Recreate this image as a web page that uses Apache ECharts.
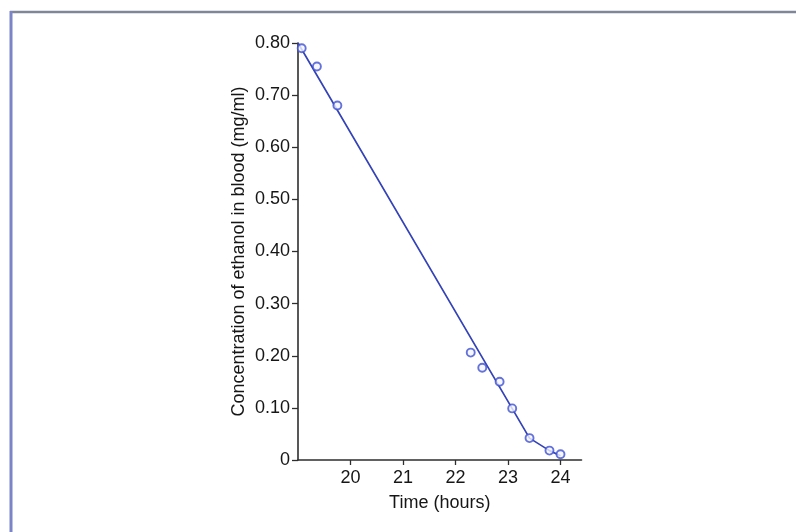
<!DOCTYPE html>
<html>
<head>
<meta charset="utf-8">
<script src="https://cdn.jsdelivr.net/npm/echarts@6/dist/echarts.min.js"></script>
<style>
html,body{margin:0;padding:0;background:#fff;}
#chart{width:796px;height:532px;}
</style>
</head>
<body>
<div id="chart"></div>
<script>
// Observed data points (time in hours, ethanol concentration mg/ml)
const obsTime = [19.07, 19.36, 19.75, 22.29, 22.51, 22.84, 23.08, 23.41, 23.79, 24.0];
const obsConc = [0.79, 0.755, 0.68, 0.206, 0.177, 0.150, 0.099, 0.042, 0.018, 0.011];
// Fitted line
const fitTime = [19.0, 23.41, 23.79, 24.0];
const fitConc = [0.80, 0.042, 0.018, 0.008];
// Ticks
const xTicks = [20, 21, 22, 23, 24];
const xTickLabels = ['20', '21', '22', '23', '24'];
const yTicks = [0, 0.1, 0.2, 0.3, 0.4, 0.5, 0.6, 0.7, 0.8];
const yTickLabels = ['0', '0.10', '0.20', '0.30', '0.40', '0.50', '0.60', '0.70', '0.80'];

const xTitle = 'Time (hours)';
const yTitle = 'Concentration of ethanol in blood (mg/ml)';

const chart = echarts.init(document.getElementById('chart'));
const font = 'Liberation Sans, Arial, sans-serif';
const axisColor = '#2e2e2e';
const textColor = '#161616';

function labelFor(ticks, labels, v) {
  for (let i = 0; i < ticks.length; i++) {
    if (Math.abs(ticks[i] - v) < 1e-6) return labels[i];
  }
  return '';
}

chart.setOption({
  backgroundColor: '#fff',
  animation: false,
  graphic: [
    { type: 'line', shape: { x1: 10, y1: 12, x2: 796, y2: 12 }, style: { stroke: '#80869a', lineWidth: 2.5 } },
    { type: 'line', shape: { x1: 11, y1: 11, x2: 11, y2: 532 }, style: { stroke: '#7c84c8', lineWidth: 3 } }
  ],
  grid: { left: 298, top: 43, width: 283.5, height: 417, containLabel: false },
  xAxis: {
    type: 'value',
    min: 19, max: 24.4,
    name: xTitle,
    nameLocation: 'middle',
    nameGap: 34,
    nameTextStyle: { fontFamily: font, fontSize: 18, color: textColor },
    axisLine: { show: true, onZero: false, lineStyle: { color: axisColor, width: 1.6 } },
    axisTick: { show: true, length: 5, customValues: xTicks, lineStyle: { color: axisColor, width: 1.3 } },
    axisLabel: {
      customValues: xTicks,
      margin: 9,
      fontFamily: font, fontSize: 18, color: textColor,
      formatter: v => labelFor(xTicks, xTickLabels, v)
    },
    splitLine: { show: false }
  },
  yAxis: {
    type: 'value',
    min: 0, max: 0.8,
    name: yTitle,
    nameLocation: 'middle',
    nameGap: 50,
    nameTextStyle: { fontFamily: font, fontSize: 18, color: textColor },
    axisLine: { show: true, onZero: false, lineStyle: { color: axisColor, width: 1.6 } },
    axisTick: { show: true, length: 6, customValues: yTicks, lineStyle: { color: axisColor, width: 1.3 } },
    axisLabel: {
      customValues: yTicks,
      margin: 8,
      fontFamily: font, fontSize: 18, color: textColor,
      formatter: v => labelFor(yTicks, yTickLabels, v)
    },
    splitLine: { show: false }
  },
  series: [
    {
      type: 'line',
      data: fitTime.map((t, i) => [t, fitConc[i]]),
      showSymbol: false,
      symbol: 'none',
      lineStyle: { color: '#3443b8', width: 1.7 },
      z: 2
    },
    {
      type: 'scatter',
      data: obsTime.map((t, i) => [t, obsConc[i]]),
      symbol: 'circle',
      symbolSize: 8,
      itemStyle: { color: '#f4f5ff', borderColor: '#3e50d0', borderWidth: 1.9 },
      z: 3
    }
  ]
});
</script>
</body>
</html>
